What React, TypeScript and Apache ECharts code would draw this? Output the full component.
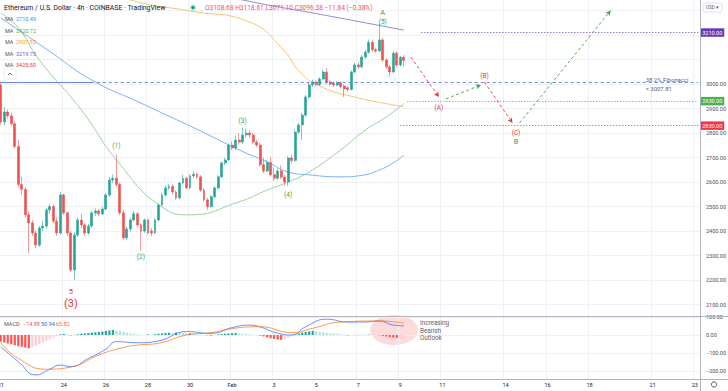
import React, { useEffect, useRef } from "react";
import * as echarts from "echarts";

const SLOTS = 200;
const dayLabelIndex = [0, 18, 30, 42, 54, 66, 78, 90, 102, 114, 126, 144, 156, 168, 186, 198];
const dayLabelText = ["21", "24", "26", "28", "30", "Feb", "3", "5", "7", "9", "11", "14", "16", "18", "21", "23"];

// [open, close, low, high]
const candles: [number, number, number, number][] = [
  [2996, 2845, 2835, 3010], [2845, 2886, 2830, 2905], [2886, 2870, 2858, 2896], [2870, 2838, 2830, 2882],
  [2838, 2745, 2738, 2850], [2745, 2590, 2580, 2772], [2590, 2570, 2548, 2620], [2570, 2466, 2455, 2580],
  [2466, 2433, 2310, 2478], [2433, 2392, 2380, 2445], [2392, 2343, 2330, 2400], [2343, 2412, 2335, 2420],
  [2412, 2420, 2400, 2440], [2420, 2486, 2410, 2495], [2486, 2500, 2470, 2512], [2500, 2440, 2432, 2508],
  [2440, 2392, 2380, 2455], [2392, 2547, 2385, 2560], [2547, 2474, 2465, 2552], [2474, 2392, 2380, 2480],
  [2392, 2241, 2232, 2400], [2241, 2384, 2200, 2395], [2384, 2445, 2375, 2455], [2445, 2425, 2412, 2470],
  [2425, 2392, 2380, 2432], [2392, 2420, 2385, 2428], [2420, 2474, 2412, 2480], [2474, 2482, 2462, 2492],
  [2482, 2470, 2460, 2490], [2470, 2490, 2465, 2500], [2490, 2547, 2485, 2555], [2547, 2608, 2540, 2620],
  [2608, 2615, 2595, 2630], [2615, 2590, 2580, 2712], [2590, 2474, 2465, 2598], [2474, 2372, 2365, 2485],
  [2372, 2408, 2362, 2418], [2408, 2445, 2398, 2455], [2445, 2470, 2440, 2482], [2470, 2425, 2415, 2478],
  [2425, 2400, 2320, 2432], [2400, 2445, 2392, 2452], [2445, 2392, 2385, 2450], [2400, 2392, 2380, 2412],
  [2392, 2445, 2388, 2452], [2445, 2506, 2440, 2512], [2506, 2547, 2500, 2555], [2547, 2576, 2540, 2585],
  [2576, 2582, 2568, 2592], [2582, 2559, 2550, 2590], [2559, 2535, 2528, 2566], [2535, 2596, 2530, 2602],
  [2596, 2615, 2590, 2630], [2615, 2576, 2570, 2622], [2576, 2625, 2570, 2632], [2625, 2632, 2615, 2645],
  [2632, 2621, 2612, 2640], [2621, 2567, 2560, 2628], [2567, 2527, 2520, 2575], [2527, 2500, 2486, 2535],
  [2500, 2540, 2495, 2548], [2540, 2576, 2532, 2582], [2576, 2621, 2570, 2628], [2621, 2678, 2615, 2684],
  [2678, 2690, 2670, 2700], [2690, 2751, 2685, 2758], [2751, 2739, 2730, 2765], [2739, 2771, 2732, 2790],
  [2771, 2763, 2752, 2800], [2763, 2792, 2755, 2822], [2792, 2800, 2782, 2818], [2800, 2792, 2780, 2810],
  [2792, 2763, 2755, 2800], [2763, 2751, 2742, 2772], [2751, 2670, 2662, 2760], [2670, 2645, 2636, 2700],
  [2645, 2680, 2640, 2690], [2680, 2630, 2622, 2700], [2630, 2615, 2605, 2660], [2615, 2645, 2610, 2655],
  [2645, 2620, 2612, 2668], [2620, 2600, 2584, 2630], [2600, 2698, 2584, 2705], [2698, 2688, 2676, 2710],
  [2688, 2804, 2682, 2815], [2804, 2833, 2795, 2842], [2833, 2873, 2770, 2882], [2873, 2947, 2865, 2955],
  [2947, 2996, 2940, 3004], [2996, 3008, 2988, 3018], [3008, 2998, 2990, 3015], [2998, 3020, 2992, 3028],
  [3020, 3049, 3015, 3058], [3049, 3008, 3000, 3065], [3008, 3000, 2992, 3015], [3003, 2996, 2988, 3010],
  [2996, 3005, 2990, 3012], [3005, 2990, 2982, 3010], [2992, 2980, 2947, 2998], [2985, 2978, 2970, 2992],
  [2978, 3049, 2972, 3055], [3049, 3078, 3042, 3086], [3078, 3070, 3062, 3088], [3070, 3110, 3065, 3118],
  [3110, 3130, 3102, 3140], [3130, 3170, 3124, 3182], [3170, 3140, 3132, 3178], [3140, 3135, 3126, 3148],
  [3135, 3180, 3130, 3245], [3180, 3098, 3090, 3188], [3098, 3070, 3062, 3105], [3070, 3049, 3030, 3078],
  [3049, 3126, 3044, 3132], [3126, 3078, 3070, 3134], [3078, 3108.68, 3072, 3115], [3108.68, 3096.38, 3071.1, 3118.61],
];

// moving averages: [candle index, value]
const maBlue: [number, number][] = [[0, 3269], [13, 3143], [26, 3016], [40, 2922], [57, 2808], [68, 2731], [76, 2682], [82, 2641], [88, 2629], [97, 2621], [103, 2627], [108, 2649], [112, 2678], [115, 2710.49]];
const maGreen: [number, number][] = [[0, 3290], [5, 3230], [11, 3098], [23, 2894], [33, 2690], [46, 2498], [54, 2466], [68, 2519], [76, 2567], [82, 2600], [88, 2641], [97, 2731], [104, 2812], [110, 2865], [115, 2920.72]];
const maOrange: [number, number][] = [[30, 3400], [37, 3343], [54, 3298], [71, 3253], [80, 3150], [86, 3040], [92, 2985], [100, 2950], [108, 2925], [115, 2907.55]];
const maPurple: [number, number][] = [[55, 3390], [69, 3343], [92, 3282], [115, 3219.75]];

const macdHist = [
  -37, -42, -47, -52, -57, -62, -66, -70, -73,
  -68, -60, -51, -42, -33, -24, -15, -7,
  4, 6, 3, -2, 1,
  4, 7, 9, 11, 13, 15, 17, 19, 22, 25, 28,
  25, 21, 17, 13, 9, 6, 4,
  2, 1, 3, 2, 4,
  7, 9, 11, 13, 12, 13, 11,
  10, 8, 9, 6, 4, 2, 0,
  -2, -3, -2,
  3, 5, 7, 8, 10, 11,
  9, 7, 5, 4, 2, 1,
  -3, -8, -13, -18, -22, -25, -27, -22, -15, -8,
  3, 8, 13, 17, 20, 23,
  20, 17, 14, 12, 10, 8, 6, 4, 2,
  -2, 0, 1, -1, 1, 1, 2, 1, -1, -2,
  -5, -8, -11, -14, -16, -15, -14.88,
];
const macdLine: [number, number][] = [[0, -65], [5, -148], [10, -222], [14, -190], [17, -167], [20, -176], [25, -130], [30, -79], [33, -37], [39, -43], [45, -33], [53, 19], [60, 9], [66, 41], [71, 55], [74, 45], [79, 10], [83, 0], [87, 46], [93, 88], [99, 72], [104, 72], [108, 78], [112, 55], [115, 50.94]];
const signalLine: [number, number][] = [[0, -43], [5, -130], [13, -190], [20, -178], [28, -111], [34, -74], [39, -56], [45, -46], [53, 0], [60, 13], [66, 35], [71, 45], [74, 46], [83, 13], [89, 37], [97, 72], [108, 78], [115, 65.82]];

const priceTicksHidden = [2000, 3100, 3200, 3300, 3400];
const macdTicksHidden = [-300, 200];

const fibLevel = 3007.81;
const levelPurple = 3210;
const levelGreen = 2930;
const levelRed = 2830;
const lastClose = 3096.38;

// Elliott labels: [index, price, text, color, fontSize]
const waveLabels: [number, number, string, string, number][] = [
  [33, 2747, "(1)", "#43a047", 6.5],
  [40, 2294, "(2)", "#43a047", 6.5],
  [69, 2849, "(3)", "#43a047", 6.5],
  [82, 2547, "(4)", "#43a047", 6.5],
  [109, 3253, "(5)", "#43a047", 6.5],
  [109, 3290, "A", "#43a047", 7.5],
  [20, 2155, "5", "#e53935", 7.5],
  [20, 2106, "(3)", "#e53935", 11],
  [125, 2902, "(A)", "#e53935", 6.5],
  [138, 3033, "(B)", "#e53935", 6.5],
  [147, 2800, "(C)", "#e53935", 6.5],
  [147, 2767, "B", "#43a047", 7.5],
];
// projected path arrows: [fromIdx, fromPrice, toIdx, toPrice, color]
const pathArrows: [number, number, number, number, string][] = [
  [117, 3110, 125, 2947, "#e53935"],
  [127, 2939, 137, 2996, "#43a047"],
  [138, 3008, 146, 2841, "#e53935"],
  [148, 2841, 174, 3300, "#43a047"],
];

const GRID_C = "#eef0f5";
const FONT = "Roboto, Arial, sans-serif";

function buildOption() {
  const cats = Array.from({ length: SLOTS }, (_, i) => {
    const k = dayLabelIndex.indexOf(i);
    return k >= 0 ? dayLabelText[k] : "";
  });
  const isDay = (i: number) => dayLabelIndex.indexOf(i) >= 0;
  const last = SLOTS - 1;

  const histData = macdHist.map((v, i) => {
    const prev = i > 0 ? macdHist[i - 1] : v;
    let c;
    if (v >= 0) c = v >= prev ? "#26a69a" : "#b2dfdb";
    else c = v <= prev ? "#ff5252" : "#ffcdd2";
    return { value: [i, v], itemStyle: { color: c } };
  });

  const priceSplitColors = Array.from({ length: 15 }, (_, k) => (k === 0 ? "rgba(0,0,0,0)" : GRID_C));
  const macdSplitColors = ["rgba(0,0,0,0)", GRID_C, GRID_C, GRID_C, GRID_C, "rgba(0,0,0,0)"];

  const tag = (text: string, bg: string) => ({
    show: true, position: "end", formatter: text, backgroundColor: bg, color: "#fff",
    fontSize: 5.5, padding: [1.5, 2, 1, 2], distance: 2, fontFamily: FONT,
  });

  const markLines: any[] = [
    [{ coord: [0, fibLevel], symbol: "none", lineStyle: { color: "#5b7ee5", type: [3, 3], width: 0.9 }, label: { show: false } }, { coord: [last, fibLevel], symbol: "none" }],
    [{ coord: [0, fibLevel], symbol: "none", lineStyle: { color: "#5b7ee5", type: "solid", width: 0.9 }, label: { show: false } }, { coord: [26, fibLevel], symbol: "none" }],
    [{ coord: [120, levelPurple], symbol: "none", lineStyle: { color: "#673ab7", type: [1, 2], width: 1 }, label: tag("3210.00", "#673ab7") }, { coord: [last, levelPurple], symbol: "none" }],
    [{ coord: [116, levelGreen], symbol: "none", lineStyle: { color: "#4caf50", type: [1, 2], width: 1 }, label: tag("2930.00", "#4caf50") }, { coord: [last, levelGreen], symbol: "none" }],
    [{ coord: [114, levelRed], symbol: "none", lineStyle: { color: "#f23645", type: [1, 2], width: 1 }, label: tag("2830.00", "#f23645") }, { coord: [last, levelRed], symbol: "none" }],
    [{ coord: [115, lastClose], symbol: "none", lineStyle: { color: "#ef5350", opacity: 0, width: 0.5 }, label: tag("3096.38", "#ef5350") }, { coord: [last, lastClose], symbol: "none" }],
  ];
  pathArrows.forEach(([a, pa, b, pb, c]) => {
    markLines.push([
      { coord: [a, pa], symbol: "none", lineStyle: { color: c, type: [3, 2.5], width: 0.9 }, label: { show: false } },
      { coord: [b, pb], symbol: "arrow", symbolSize: [4, 5] },
    ]);
  });

  const markPoints: any[] = waveLabels.map(([i, p, t, c, fs]) => ({
    coord: [i, p], symbol: "rect", symbolSize: 1, itemStyle: { color: "rgba(0,0,0,0)" },
    label: { show: true, position: "inside", formatter: t, color: c, fontSize: fs, fontFamily: FONT },
  }));
  markPoints.push({
    coord: [184, 2998], symbol: "rect", symbolSize: 1, itemStyle: { color: "rgba(0,0,0,0)" },
    label: { show: true, position: "inside", formatter: "38.2% Fibonacci\n= 3007.81", color: "#5d606b", fontSize: 5.9, fontFamily: FONT, align: "left", lineHeight: 8.5 },
  });

  const maSeries = (data: [number, number][], color: string) => ({
    type: "line", xAxisIndex: 0, yAxisIndex: 0, data, smooth: 0.5, showSymbol: false, symbol: "none",
    lineStyle: { color, width: 0.8 }, silent: true, z: 3,
  });

  const legendRows: [string, string, number][] = [
    ["2710.49", "#2196f3", 19], ["2920.72", "#4caf50", 31], ["2907.55", "#ff9800", 42], ["3219.75", "#7e57c2", 54], ["3425.50", "#f23645", 65],
  ];

  const graphics: any[] = [
    { type: "line", shape: { x1: 0, y1: 316.5, x2: 728, y2: 316.5 }, style: { stroke: "#b2b5be", lineWidth: 1 }, z: 10 },
    { type: "line", shape: { x1: 700.5, y1: 0, x2: 700.5, y2: 391 }, style: { stroke: "#b2b5be", lineWidth: 1 }, z: 10 },
    { type: "line", shape: { x1: 0, y1: 379.5, x2: 728, y2: 379.5 }, style: { stroke: "#b2b5be", lineWidth: 1 }, z: 10 },
    { type: "text", x: 4, y: 8, style: { text: "Ethereum / U.S. Dollar · 4h · COINBASE · TradingView", fontSize: 6.9, fill: "#131722", fontFamily: FONT, verticalAlign: "middle" }, z: 10 },
    { type: "circle", shape: { cx: 193, cy: 7.5, r: 3.6 }, style: { fill: "rgba(38,166,154,0.18)" }, z: 10 },
    { type: "circle", shape: { cx: 193, cy: 7.5, r: 1.8 }, style: { fill: "#089981" }, z: 10 },
    { type: "text", x: 205, y: 8, style: { text: "O3108.68 H3118.61 L3071.10 C3096.38 −11.84 (−0.38%)", fontSize: 6.6, fill: "#ef5350", fontFamily: FONT, verticalAlign: "middle" }, z: 10 },
    { type: "rect", shape: { x: 703, y: 3, width: 19, height: 9, r: 2 }, style: { fill: "#fff", stroke: "#d1d4dc", lineWidth: 0.7 }, z: 10 },
    { type: "text", x: 712.5, y: 7.6, style: { text: "USD ▾", fontSize: 4.6, fill: "#50535e", fontFamily: FONT, align: "center", verticalAlign: "middle" }, z: 11 },
    { type: "rect", shape: { x: 4, y: 69, width: 12, height: 10, r: 2 }, style: { fill: "#fff", stroke: "#e0e3eb", lineWidth: 0.7 }, z: 10 },
    { type: "polyline", shape: { points: [[7.8, 75.2], [10, 73], [12.2, 75.2]] }, style: { stroke: "#50535e", lineWidth: 0.8, fill: "none" }, z: 11 },
    { type: "circle", shape: { cx: 714, cy: 384.5, r: 2.6 }, style: { fill: "none", stroke: "#50535e", lineWidth: 1 }, z: 10 },
    { type: "ellipse", shape: { cx: 394, cy: 330, rx: 24, ry: 15 }, style: { fill: "rgba(242,54,69,0.18)" }, z: 0 },
    { type: "text", x: 420, y: 330.5, style: { text: "Increasing\nBearish\nOutlook", fontSize: 6.3, lineHeight: 7.3, fill: "#5d606b", fontFamily: FONT, verticalAlign: "middle" }, z: 10 },
    { type: "text", x: 4, y: 323.5, style: { text: "MACD", fontSize: 5.5, fill: "#50535e", fontFamily: FONT, verticalAlign: "middle" }, z: 10 },
    { type: "text", x: 23, y: 323.5, style: { text: "−14.88", fontSize: 5.5, fill: "#ef5350", fontFamily: FONT, verticalAlign: "middle" }, z: 10 },
    { type: "text", x: 41, y: 323.5, style: { text: "50.94", fontSize: 5.5, fill: "#2962ff", fontFamily: FONT, verticalAlign: "middle" }, z: 10 },
    { type: "text", x: 56, y: 323.5, style: { text: "65.82", fontSize: 5.5, fill: "#ff6d00", fontFamily: FONT, verticalAlign: "middle" }, z: 10 },
  ];
  legendRows.forEach(([v, c, y]) => {
    graphics.push({ type: "text", x: 5, y, style: { text: "MA", fontSize: 5.5, fill: "#50535e", fontFamily: FONT, verticalAlign: "middle" }, z: 10 });
    graphics.push({ type: "text", x: 16, y, style: { text: v, fontSize: 5.5, fill: c, fontFamily: FONT, verticalAlign: "middle" }, z: 10 });
  });

  const gridBase = { left: -1, width: 701, containLabel: false, outerBoundsMode: "none" };

  return {
    animation: false,
    backgroundColor: "#ffffff",
    textStyle: { fontFamily: FONT },
    grid: [
      { ...gridBase, top: -14, height: 343 },
      { ...gridBase, top: 299, height: 90 },
      { ...gridBase, top: 316, height: 63 },
    ],
    xAxis: [
      { type: "category", gridIndex: 0, data: cats, boundaryGap: true, axisLine: { show: false }, axisTick: { show: false }, axisLabel: { show: false },
        splitLine: { show: true, interval: (i: number) => isDay(i), lineStyle: { color: GRID_C, width: 1 } } },
      { type: "category", gridIndex: 1, data: cats, boundaryGap: true, show: false },
      { type: "category", gridIndex: 2, data: cats, boundaryGap: true, axisLine: { show: false }, axisTick: { show: false },
        axisLabel: { show: true, interval: (i: number) => isDay(i), fontSize: 5.5, color: "#131722", margin: 3, fontFamily: FONT },
        splitLine: { show: true, interval: (i: number) => isDay(i), lineStyle: { color: GRID_C, width: 1 } } },
    ],
    yAxis: [
      { type: "value", gridIndex: 0, position: "right", min: 2000, max: 3400, interval: 100, axisLine: { show: false }, axisTick: { show: false },
        axisLabel: { fontSize: 5.5, color: "#4a4e58", margin: 6, fontFamily: FONT, formatter: (v: number) => (priceTicksHidden.indexOf(v) >= 0 ? "" : v.toFixed(2)) },
        splitLine: { show: true, lineStyle: { color: priceSplitColors, width: 1 } } },
      { type: "value", gridIndex: 1, position: "right", min: -300, max: 200, interval: 100, axisLine: { show: false }, axisTick: { show: false },
        axisLabel: { fontSize: 5.5, color: "#4a4e58", margin: 6, fontFamily: FONT, formatter: (v: number) => (macdTicksHidden.indexOf(v) >= 0 ? "" : (v < 0 ? "−" + Math.abs(v).toFixed(2) : v.toFixed(2))) },
        splitLine: { show: true, lineStyle: { color: macdSplitColors, width: 1 } } },
      { type: "value", gridIndex: 2, min: 0, max: 1, show: false },
    ],
    graphic: graphics,
    series: [
      {
        type: "candlestick", xAxisIndex: 0, yAxisIndex: 0, data: candles, barWidth: 2.4, z: 4,
        itemStyle: { color: "#26a69a", color0: "#ef5350", borderColor: "#26a69a", borderColor0: "#ef5350", borderWidth: 0.6 },
        markLine: { silent: true, animation: false, symbol: ["none", "none"], data: markLines },
        markPoint: { silent: true, animation: false, data: markPoints },
      },
      maSeries(maBlue, "#5b9cf6"),
      maSeries(maGreen, "#81c784"),
      maSeries(maOrange, "#f5b350"),
      maSeries(maPurple, "#7b6fc2"),
      { type: "bar", xAxisIndex: 1, yAxisIndex: 1, data: histData, barWidth: 2.2, z: 2 },
      { type: "line", xAxisIndex: 1, yAxisIndex: 1, data: macdLine, smooth: 0.5, symbol: "none", lineStyle: { color: "#2962ff", width: 0.7 }, z: 3 },
      { type: "line", xAxisIndex: 1, yAxisIndex: 1, data: signalLine, smooth: 0.5, symbol: "none", lineStyle: { color: "#ff6d00", width: 0.7 }, z: 3 },
    ],
  };
}

export default function App() {
  const ref = useRef<HTMLDivElement>(null);
  useEffect(() => {
    const chart = echarts.init(ref.current!, null, { renderer: "svg" });
    chart.setOption(buildOption() as any);
    return () => chart.dispose();
  }, []);
  return <div ref={ref} style={{ position: "fixed", left: 0, top: 0, width: 728, height: 391, background: "#fff" }} />;
}
